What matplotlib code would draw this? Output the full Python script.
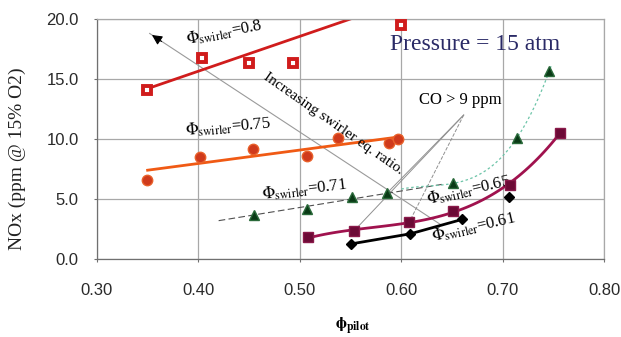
import matplotlib
matplotlib.use("Agg")
import matplotlib.pyplot as plt
import numpy as np

plt.rcParams["font.family"] = ["Liberation Sans", "DejaVu Sans"]
plt.rcParams["mathtext.fontset"] = "stix"

# --- data ---
# Φ_swirler = 0.8 (open red squares)
sq08_x = [0.349, 0.404, 0.450, 0.493, 0.600]
sq08_y = [14.1, 16.75, 16.3, 16.3, 19.5]
fit08_x = [0.35, 0.56]
fit08_y = [14.2, 20.3]

# Φ_swirler = 0.75 (orange circles)
c075_x = [0.349, 0.402, 0.454, 0.507, 0.538, 0.588, 0.597]
c075_y = [6.6, 8.5, 9.2, 8.6, 10.1, 9.7, 10.0]
fit075_x = [0.35, 0.60]
fit075_y = [7.4, 10.2]

# Φ_swirler = 0.71 (green triangles)
t071_x = [0.455, 0.507, 0.551, 0.586, 0.651, 0.714, 0.746]
t071_y = [3.7, 4.2, 5.2, 5.5, 6.3, 10.1, 15.7]

# Φ_swirler = 0.65 (purple squares)
sq065_x = [0.508, 0.553, 0.608, 0.651, 0.707, 0.756]
sq065_y = [1.8, 2.3, 3.1, 4.0, 6.2, 10.5]

# Φ_swirler = 0.61 (black diamonds)
d061_x = [0.550, 0.609, 0.660, 0.706]
d061_y = [1.25, 2.1, 3.3, 5.2]

x_ticks = [0.30, 0.40, 0.50, 0.60, 0.70, 0.80]
y_ticks = [0.0, 5.0, 10.0, 15.0, 20.0]

fig = plt.figure(figsize=(6.21, 3.37), dpi=100)
ax = fig.add_axes([0.156, 0.2315, 0.817, 0.712])
ax.set_xlim(0.30, 0.80)
ax.set_ylim(0, 20)

# grid / frame
ax.set_xticks(x_ticks)
ax.set_yticks(y_ticks)
ax.set_xticklabels([f"{v:.2f}" for v in x_ticks])
ax.set_yticklabels([f"{v:.1f}" for v in y_ticks])
ax.grid(True, color="#a8a8a8", lw=0.9)
ax.set_axisbelow(True)
for s in ax.spines.values():
    s.set_color("#a8a8a8")
    s.set_linewidth(0.9)
ax.spines["left"].set_color("#707070")
ax.spines["bottom"].set_color("#707070")
ax.tick_params(length=2, width=0.8, color="#707070", labelsize=12,
               labelcolor="#2a2a2a")
ax.tick_params(axis="y", pad=11)
ax.tick_params(axis="x", pad=15)

# arrow "increasing swirler eq. ratio"
ax.plot([0.352, 0.640], [18.8, 2.8], color="#9a9a9a", lw=0.8, zorder=1)
ax.annotate("", xy=(0.352, 18.8), xytext=(0.366, 18.0),
            arrowprops=dict(arrowstyle="-|>", color="black", lw=0.8,
                            mutation_scale=15))

# CO > 9 ppm pointer lines
ax.plot([0.6615, 0.586], [12.0, 5.5], color="#909090", lw=0.7, zorder=1)
ax.plot([0.6615, 0.553], [12.0, 2.3], color="#909090", lw=0.7, zorder=1)
ax.plot([0.6615, 0.608], [12.0, 3.1], color="#909090", lw=0.7, ls="--", zorder=1)

# 0.8
ax.plot(fit08_x, fit08_y, color="#d01c1c", lw=2, clip_on=True)
ax.plot(sq08_x, sq08_y, ls="none", marker="s", ms=5.4, mfc="white",
        mec="#d01c1c", mew=2.8, clip_on=False, zorder=5)

# 0.75
ax.plot(fit075_x, fit075_y, color="#f05a14", lw=2)
ax.plot(c075_x, c075_y, ls="none", marker="o", ms=7.5, color="#cf3a1c",
        mec="#e8602a", zorder=5)

# 0.71
p1 = np.polyfit(t071_x[:5], t071_y[:5], 1)
xl = np.linspace(0.42, 0.64, 20)
ax.plot(xl, np.polyval(p1, xl), color="#505050", lw=0.8, ls=(0, (6, 3)))
p3 = np.polyfit(t071_x[3:], t071_y[3:], 3)
xc = np.linspace(0.60, 0.748, 60)
ax.plot(xc, np.polyval(p3, xc), color="#6cc4a8", lw=0.9, ls=(0, (2, 2)))
ax.plot(t071_x, t071_y, ls="none", marker="^", ms=7, color="#0a3a16",
        mec="#2a6a3a", zorder=5)

# 0.65
pp = np.polyfit(sq065_x, sq065_y, 3)
xp = np.linspace(0.505, 0.757, 80)
ax.plot(xp, np.polyval(pp, xp), color="#a0124e", lw=2)
ax.plot(sq065_x, sq065_y, ls="none", marker="s", ms=7.5, color="#6c0a36",
        mec="#8a1a4a", zorder=5)

# 0.61
ax.plot(d061_x[:3], d061_y[:3], color="black", lw=2)
ax.plot(d061_x, d061_y, ls="none", marker="D", ms=5.5, color="black", zorder=5)

# labels
serif = "Liberation Serif"
ax.text(0.6725, 17.85, "Pressure = 15 atm", family=serif, fontsize=17,
        color="#2a2a66", ha="center", va="center")
ax.text(0.6586, 13.25, "CO > 9 ppm", family=serif, fontsize=12,
        ha="center", va="center")
ax.text(0.533, 11.3, "Increasing swirler eq. ratio.", family=serif,
        fontsize=11, rotation=-35, ha="center", va="center")

phi_labels = [
    (0.426, 18.9, 11, "0.8"),
    (0.429, 11.0, 5, "0.75"),
    (0.505, 5.75, 7, "0.71"),
    (0.667, 5.75, 13, "0.65"),
    (0.671, 2.6, 13, "0.61"),
]
for lx, ly, rot, val in phi_labels:
    ax.text(lx, ly, r"$\Phi_{\mathrm{swirler}}$=" + val, family=serif,
            fontsize=12, rotation=rot, ha="center", va="center",
            rotation_mode="anchor")

ax.set_ylabel("NOx (ppm @ 15% O2)", family=serif, fontsize=14, color="#222222")
ax.yaxis.set_label_coords(-0.14, 0.42)
ax.set_xlabel(r"$\mathbf{\phi}_{\mathbf{pilot}}$", fontsize=12)
ax.xaxis.set_label_coords(0.505, -0.235)

fig.savefig("out.png", dpi=100, facecolor="white")
